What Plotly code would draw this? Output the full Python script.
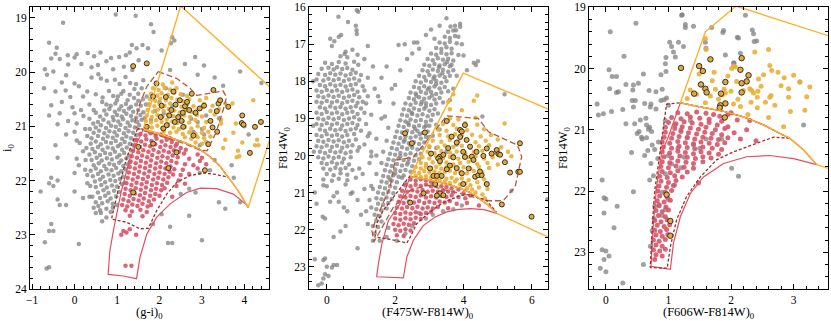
import plotly.graph_objects as go

# ---------------- panel 1 : (g-i)0 vs i0 ----------------
P1_GRAY = [
    (0.97,18.94),(1.44,18.96),(-0.27,19.09),(1.80,19.12),(1.86,19.26),(2.30,19.36),(2.27,19.47),(-0.60,19.46),(-0.42,19.55),
    (1.35,19.50),(1.46,19.56),(1.60,19.50),(1.73,19.56),(2.05,19.60),(-0.55,19.75),(-0.45,19.66),(-0.16,19.69),(0.00,19.73),
    (0.05,19.67),(0.31,19.65),(0.46,19.71),(0.61,19.64),(0.75,19.80),(0.86,19.74),(1.05,19.72),(1.21,19.69),(1.30,19.64),
    (1.51,19.78),(-0.35,19.76),(-0.70,19.95),(-0.15,19.86),(0.16,19.85),(0.40,19.91),(0.55,19.87),(-0.50,19.99),(0.91,19.95),
    (1.16,19.90),(1.36,19.96),(2.84,19.72),(3.05,19.88),(3.90,19.99),(2.25,19.96),(-0.65,20.05),(-0.20,20.06),(0.00,20.21),
    (0.10,20.26),(0.40,20.10),(0.56,20.04),(0.62,20.12),(0.76,20.16),(0.95,20.14),(1.06,20.22),(1.20,20.09),(1.31,20.20),
    (-0.30,20.19),(-0.45,20.36),(-0.72,20.30),(-0.21,20.34),(0.30,20.36),(0.50,20.41),(0.81,20.35),(1.10,20.40),(1.41,20.31),
    (-0.10,20.46),(0.20,20.45),(0.66,20.47),(0.91,20.44),(1.00,20.52),(-0.55,20.61),(-0.30,20.55),(-0.60,20.80),(-0.35,20.76),
    (-0.05,20.65),(0.00,20.76),(0.15,20.70),(0.21,20.81),(-0.15,20.90),(-0.40,20.96),(0.05,20.95),(0.35,20.86),(0.35,20.60),
    (0.45,20.70),(-0.45,21.35),(-0.40,21.58),(0.00,21.10),(0.05,21.26),(0.12,21.31),(-0.20,21.15),(0.20,21.46),(0.25,21.05),
    (-0.80,22.20),(-0.60,22.05),(-0.55,21.95),(-0.50,22.10),(-0.40,22.00),(-0.40,22.35),(-0.35,22.45),(-0.20,22.45),(0.00,22.20),
    (0.05,21.60),(0.10,21.72),(0.00,21.86),(0.25,21.80),(0.30,22.05),(0.35,22.30),(0.20,22.32),(0.45,22.50),(-0.55,22.80),
    (-0.60,22.93),(-0.50,22.93),(-0.70,23.14),(0.10,23.17),(-0.60,23.60),(-0.66,23.62),(0.50,22.60),(0.60,22.55),(0.65,22.75),
    (2.35,19.42),(2.60,19.85),(3.50,20.25),(3.05,21.15),(2.95,21.35),(3.19,21.81),(3.30,21.62),(3.70,21.72),(2.95,21.86),
    (2.70,22.15),(2.85,22.22),(3.40,22.40),(2.70,22.65),(2.25,22.85),(2.20,23.15),(2.30,23.15),(3.00,23.10),(3.55,22.52),
    (3.90,22.40),(4.40,20.20),(4.00,21.00),(4.10,21.15),(3.75,21.95),(2.50,22.25),(2.05,22.62),(1.85,22.80),(2.90,20.05),(3.30,20.10),
    (1.25,20.52),(1.40,20.48),(1.50,20.53),(1.61,20.50),
    (0.85,20.62),(0.96,20.58),(1.10,20.63),(1.21,20.59),(1.33,20.64),(1.45,20.60),(1.56,20.62),
    (0.70,20.71),(0.82,20.68),(0.95,20.73),(1.05,20.69),(1.16,20.72),(1.28,20.67),(1.38,20.73),(1.50,20.70),(1.62,20.74),
    (0.60,20.82),(0.75,20.78),(0.90,20.83),(1.00,20.79),(1.11,20.82),(1.22,20.77),(1.33,20.81),(1.45,20.84),(1.55,20.79),
    (0.55,20.92),(0.68,20.88),(0.80,20.93),(0.92,20.89),(1.03,20.91),(1.14,20.87),(1.25,20.93),(1.36,20.89),(1.48,20.92),(1.58,20.88),
    (0.50,21.02),(0.62,20.98),(0.74,21.03),(0.86,20.99),(0.97,21.01),(1.08,20.97),(1.20,21.03),(1.30,20.99),(1.42,21.02),(1.52,20.98),
    (0.45,21.12),(0.58,21.08),(0.70,21.13),(0.82,21.09),(0.94,21.11),(1.05,21.07),(1.16,21.13),(1.27,21.09),(1.38,21.12),(1.47,21.16),
    (0.40,21.22),(0.55,21.18),(0.67,21.23),(0.78,21.19),(0.90,21.21),(1.00,21.17),(1.12,21.23),(1.22,21.19),(1.33,21.22),(1.42,21.26),
    (0.38,21.32),(0.50,21.28),(0.62,21.33),(0.74,21.29),(0.86,21.31),(0.97,21.27),(1.08,21.33),(1.18,21.29),(1.30,21.32),(1.40,21.36),
    (0.42,21.42),(0.55,21.38),(0.66,21.43),(0.78,21.39),(0.90,21.41),(1.02,21.37),(1.12,21.43),(1.23,21.39),(1.33,21.44),
    (0.35,21.52),(0.48,21.48),(0.60,21.53),(0.72,21.49),(0.84,21.51),(0.95,21.47),(1.06,21.53),(1.17,21.49),(1.28,21.54),
    (0.40,21.62),(0.52,21.58),(0.64,21.63),(0.76,21.59),(0.88,21.61),(1.00,21.57),(1.10,21.63),(1.22,21.59),(1.30,21.66),
    (0.45,21.72),(0.57,21.68),(0.70,21.73),(0.82,21.69),(0.93,21.71),(1.05,21.67),(1.15,21.73),(1.26,21.70),
    (0.38,21.82),(0.50,21.78),(0.62,21.83),(0.75,21.79),(0.87,21.81),(0.98,21.77),(1.10,21.83),(1.20,21.79),
    (0.43,21.92),(0.55,21.88),(0.67,21.93),(0.80,21.89),(0.92,21.91),(1.03,21.87),(1.14,21.93),
    (0.48,22.02),(0.60,21.98),(0.72,22.03),(0.84,21.99),(0.96,22.01),(1.07,21.97),(1.18,22.04),
    (0.50,22.12),(0.63,22.08),(0.76,22.13),(0.88,22.09),(1.00,22.11),(1.12,22.07),
    (0.55,22.22),(0.68,22.18),(0.80,22.23),(0.93,22.19),(1.05,22.21),
    (0.60,22.32),(0.72,22.28),(0.85,22.33),(0.98,22.29),(0.65,22.42),(0.78,22.38),(0.90,22.43),(0.75,22.52),(0.90,22.50),
    (1.75,20.60),(1.90,20.72),(2.10,20.76),(2.30,20.62),(2.50,20.80),(2.62,20.70),(2.40,20.92),(2.20,20.96),(2.75,20.86),
    (2.90,20.92),(3.00,21.05),(2.80,21.10),(2.00,20.55),(1.80,20.88),(2.55,20.42),(2.15,20.30),(3.10,20.80),(3.40,20.85),
    (0.65,20.55),(0.75,20.60),(1.02,20.45),(1.15,20.35),(1.30,20.42),(1.50,20.40),(1.58,20.30),(1.70,20.45),(1.68,20.60),
    (1.65,20.85),(0.50,20.75),(0.44,20.95),(0.36,21.05),(0.30,21.18),(0.28,21.40),(0.26,21.62),(0.30,21.90),(0.37,22.10),
    (0.42,22.30),(0.50,22.40),(0.56,22.47),(0.62,22.60),(0.85,22.58),(1.00,22.45),(0.75,22.68),(1.45,20.22),(1.62,20.15),
]
P1_RED = [
    (1.55,21.14),(1.67,21.17),(1.79,21.13),(1.91,21.18),(2.03,21.15),(2.15,21.19),(2.25,21.22),
    (1.45,21.25),(1.57,21.28),(1.69,21.24),(1.81,21.27),(1.93,21.23),(2.05,21.28),(2.17,21.25),(2.29,21.29),(2.41,21.32),
    (1.42,21.35),(1.54,21.38),(1.66,21.34),(1.78,21.37),(1.90,21.33),(2.02,21.38),(2.14,21.35),(2.26,21.38),(2.38,21.36),(2.50,21.40),(2.62,21.43),
    (1.38,21.45),(1.50,21.48),(1.62,21.44),(1.74,21.47),(1.86,21.43),(1.98,21.48),(2.10,21.45),(2.22,21.48),(2.34,21.44),(2.46,21.47),(2.58,21.50),(2.90,21.52),(3.00,21.58),
    (1.35,21.55),(1.47,21.58),(1.59,21.54),(1.71,21.57),(1.83,21.53),(1.95,21.58),(2.07,21.55),(2.19,21.58),(2.31,21.54),(2.43,21.57),(2.70,21.60),(2.95,21.64),
    (1.32,21.65),(1.44,21.68),(1.56,21.64),(1.68,21.67),(1.80,21.63),(1.92,21.68),(2.04,21.65),(2.16,21.68),(2.28,21.64),(2.40,21.67),(2.60,21.70),(2.80,21.72),(3.10,21.70),
    (1.30,21.75),(1.42,21.78),(1.54,21.74),(1.66,21.77),(1.78,21.73),(1.90,21.78),(2.02,21.75),(2.14,21.78),(2.26,21.74),(2.35,21.79),(2.55,21.80),(2.90,21.78),
    (1.28,21.85),(1.40,21.88),(1.52,21.84),(1.64,21.87),(1.76,21.83),(1.88,21.88),(2.00,21.85),(2.12,21.88),(2.24,21.84),(2.32,21.89),(2.50,21.90),(2.70,21.88),
    (1.25,21.95),(1.37,21.98),(1.49,21.94),(1.61,21.97),(1.73,21.93),(1.85,21.98),(1.97,21.95),(2.09,21.98),(2.21,21.94),(2.45,22.00),
    (1.22,22.05),(1.34,22.08),(1.46,22.04),(1.58,22.07),(1.70,22.03),(1.82,22.08),(1.94,22.05),(2.06,22.08),(2.18,22.04),(2.40,22.10),(2.60,22.06),
    (1.20,22.15),(1.32,22.18),(1.44,22.14),(1.56,22.17),(1.68,22.13),(1.80,22.18),(1.92,22.15),(2.04,22.18),(2.12,22.14),
    (1.18,22.25),(1.30,22.28),(1.42,22.24),(1.54,22.27),(1.66,22.23),(1.78,22.28),(1.90,22.25),(2.00,22.28),(2.30,22.30),
    (1.15,22.35),(1.27,22.38),(1.39,22.34),(1.51,22.37),(1.63,22.33),(1.75,22.38),(1.87,22.35),
    (1.12,22.45),(1.24,22.48),(1.36,22.44),(1.48,22.47),(1.60,22.43),(1.72,22.48),(1.80,22.45),
    (1.20,22.55),(1.35,22.57),(1.55,22.54),(1.70,22.58),(1.30,22.65),(1.60,22.66),
    (1.15,22.93),(1.22,22.96),(1.10,23.00),(1.30,22.90),(1.45,23.00),(1.20,23.57),(1.34,23.57),
]
P1_ORANGE = [
    (1.92,20.20),(2.08,20.23),(2.30,20.19),(1.85,20.30),(1.98,20.33),(2.12,20.29),(2.25,20.32),(2.40,20.30),
    (1.80,20.40),(1.95,20.43),(2.05,20.39),(2.20,20.42),(2.35,20.38),(2.50,20.41),(2.65,20.44),
    (1.78,20.50),(1.90,20.53),(2.02,20.49),(2.15,20.52),(2.28,20.48),(2.42,20.51),(2.55,20.54),(2.70,20.50),(2.95,20.52),(3.10,20.48),
    (1.75,20.60),(1.88,20.63),(2.00,20.59),(2.12,20.62),(2.25,20.58),(2.38,20.61),(2.52,20.64),(2.65,20.60),(2.80,20.63),(3.05,20.59),(3.25,20.62),(3.55,20.58),
    (1.72,20.70),(1.85,20.73),(1.97,20.69),(2.10,20.72),(2.22,20.68),(2.35,20.71),(2.48,20.74),(2.60,20.70),(2.75,20.73),(2.90,20.69),(3.20,20.72),(3.40,20.68),
    (1.70,20.80),(1.82,20.83),(1.95,20.79),(2.07,20.82),(2.20,20.78),(2.32,20.81),(2.45,20.84),(2.58,20.80),(2.72,20.83),(2.88,20.79),(3.00,20.82),(3.30,20.78),
    (1.68,20.90),(1.80,20.93),(1.92,20.89),(2.05,20.92),(2.17,20.88),(2.30,20.91),(2.42,20.94),(2.55,20.90),(2.70,20.93),(2.85,20.89),(3.10,20.92),(3.45,20.88),
    (1.70,21.00),(1.82,21.02),(1.95,20.99),(2.07,21.03),(2.20,20.99),(2.33,21.02),(2.46,21.05),(2.60,21.01),(2.75,21.04),(2.90,21.00),(3.05,21.03),
    (2.10,21.10),(2.25,21.12),(2.40,21.10),(2.55,21.14),(2.70,21.11),(2.85,21.14),(3.00,21.12),(3.15,21.10),
    (2.60,21.20),(2.75,21.23),(2.90,21.20),(3.05,21.22),(3.20,21.19),(2.85,21.30),(3.00,21.32),(3.10,21.29),
    (3.72,20.58),(3.80,20.95),(3.95,21.30),(3.88,21.55),(3.85,21.45),(4.25,21.35),(4.30,21.25),(3.50,21.40),
    (4.21,20.52),(4.33,21.35),(3.74,21.12),(3.82,21.57),(3.55,21.25),(3.45,20.95),
]
P1_CIRCLED = [
    (1.38,19.89),(1.70,19.84),(1.93,20.21),(2.15,20.46),(2.33,20.36),(2.48,20.52),(2.60,20.63),(2.76,20.40),(2.95,20.67),
    (2.85,20.75),(3.27,20.33),(3.39,20.58),(3.43,20.52),(3.62,20.64),(3.35,20.72),(3.95,20.80),(3.94,20.94),(3.98,20.97),
    (4.39,20.92),(4.25,21.01),(4.13,21.49),(3.36,21.10),(3.15,21.33),(3.07,21.81),(2.21,21.77),(1.85,21.32),(1.50,21.38),
    (1.38,22.22),(2.40,21.48),(2.03,20.83),(2.23,20.80),(2.44,20.83),(2.52,20.90),(2.56,21.01),(2.70,20.70),(2.09,21.04),
    (1.70,21.01),(2.36,20.92),(2.80,21.17),(2.65,20.55),(2.05,20.62),(2.28,20.70),(2.38,20.60),(1.85,20.45),(2.17,20.98),
    (2.55,20.75),(3.05,20.62),(3.20,20.90),(3.25,21.02),
]
P1_BOUNDARY = [(1.62,21.05),(2.09,21.16),(2.56,21.29),(2.92,21.41),(3.19,21.56),(3.43,21.74),(3.66,21.98),(3.88,22.22),(4.09,22.50)]
P1_ORANGE_BOX = [(4.90,20.49),(2.50,18.78),(1.62,21.05)]
P1_RED_BOX = [(4.09,22.47),(3.74,22.25),(3.35,22.15),(2.96,22.14),(2.64,22.22),(2.25,22.43),(1.93,22.68),(1.70,22.99),
              (1.54,23.42),(1.46,23.81),(1.15,23.76),(0.79,23.73),(0.83,23.30),(0.92,22.90),(1.10,22.20),(1.30,21.60),(1.62,21.05)]
P1_DASH_LONG = [(1.97,19.99),(2.41,20.12),(2.72,20.30),(2.88,20.43),(3.50,20.35),(3.58,20.46),(3.50,20.70),(3.43,20.89),
                (3.33,21.12),(3.12,21.45),(2.96,21.44),(2.56,21.31),(2.09,21.19),(1.62,21.08),(1.45,21.02),(1.42,20.92),
                (1.54,20.58),(1.70,20.27),(1.97,19.99)]
P1_DASH_SHORT = [(1.48,21.05),(1.22,21.60),(1.02,22.20),(0.87,22.71),(1.23,22.77),(1.54,22.89),(1.74,22.88),(1.93,22.56),
                 (2.17,22.25),(2.41,22.03),(2.72,21.91),(3.03,21.86),(3.35,21.89),(3.62,21.94),(3.43,21.74),(3.19,21.56),
                 (2.92,21.41),(2.56,21.29),(2.09,21.16),(1.62,21.05),(1.48,21.05)]

# ---------------- panel 2 : (F475W-F814W)0 vs F814W0 ----------------
P2_GRAY = [
    (0.88,16.08),(0.92,16.12),(0.34,16.26),(0.62,16.40),(0.85,16.50),(0.87,16.62),(0.88,16.72),(0.10,16.85),(0.22,16.92),
    (0.35,16.80),(0.42,16.75),(0.15,17.05),(0.55,17.20),(0.75,17.15),(0.60,17.35),(3.90,16.45),(3.62,16.52),(3.78,16.62),
    (4.30,17.50),(4.42,17.46),(4.36,17.56),(2.10,17.02),(2.28,17.00),(2.70,17.12),(2.55,16.95),(3.15,16.85),(1.60,17.90),
    (1.75,17.60),(1.50,18.40),(1.90,18.20),(-0.35,22.80),(-0.10,22.82),(-0.05,22.78),(0.00,23.00),(-0.05,23.20),(0.05,23.25),
    (-0.10,23.32),(-0.25,23.50),(-0.15,23.45),(0.20,22.95),(0.30,22.95),(0.15,23.02),(0.20,22.20),(-0.05,21.70),(-0.12,21.65),
    (0.40,22.05),(0.55,21.90),(0.90,22.50),(0.35,21.25),(0.60,21.50),(0.20,21.10),(-0.30,21.30),(0.90,21.20),(1.10,20.90),
    (1.30,21.40),(1.20,21.85),(0.75,21.00),(1.30,18.90),(1.25,19.40),(1.45,19.55),(1.60,19.00),(1.15,18.60),(1.40,18.20),
    (1.20,17.90),(1.10,17.40),(5.20,18.35),(4.55,18.95),(6.45,21.18),(5.40,20.95),(2.70,21.55),(2.90,21.70),(3.10,21.60),
    (3.40,21.50),(3.70,21.45),(3.95,21.35),(2.50,21.90),(2.30,22.10),(1.75,22.20),(2.05,22.30),(1.55,22.30),(1.80,21.95),
    (2.20,20.60),(2.30,20.75),(2.90,19.20),(3.00,19.50),(3.30,19.30),(3.20,19.80),(3.50,19.90),(3.70,20.00),(3.80,19.70),
    (0.90,17.28),(0.40,17.32),(0.52,17.26),
    (-0.05,17.50),(0.15,17.53),(0.35,17.48),(0.55,17.52),(0.80,17.47),(0.92,17.55),
    (-0.15,17.66),(0.05,17.63),(0.20,17.68),(0.30,17.62),(0.45,17.67),(0.60,17.64),(0.75,17.69),
    (-0.25,17.80),(-0.05,17.83),(0.10,17.78),(0.25,17.82),(0.40,17.79),(0.55,17.84),(0.70,17.80),(0.85,17.77),(1.00,17.83),
    (-0.30,17.95),(-0.10,17.98),(0.05,17.93),(0.20,17.97),(0.35,17.94),(0.50,17.99),(0.65,17.95),(0.80,17.92),(0.95,17.98),
    (-0.20,18.10),(-0.05,18.13),(0.10,18.08),(0.25,18.12),(0.40,18.09),(0.55,18.14),(0.70,18.10),(0.85,18.07),(1.05,18.13),
    (-0.30,18.25),(-0.15,18.28),(0.00,18.23),(0.15,18.27),(0.30,18.24),(0.45,18.29),(0.60,18.25),(0.75,18.22),(0.90,18.28),(1.10,18.25),
    (-0.25,18.40),(-0.10,18.43),(0.05,18.38),(0.20,18.42),(0.35,18.39),(0.50,18.44),(0.65,18.40),(0.80,18.37),(0.95,18.43),(1.20,18.40),
    (-0.30,18.55),(-0.15,18.58),(0.00,18.53),(0.15,18.57),(0.30,18.54),(0.45,18.59),(0.60,18.55),(0.75,18.52),(0.90,18.58),(1.05,18.55),
    (-0.20,18.70),(-0.05,18.73),(0.10,18.68),(0.25,18.72),(0.40,18.69),(0.55,18.74),(0.70,18.70),(0.85,18.67),(1.00,18.73),
    (-0.30,18.85),(-0.15,18.88),(0.00,18.83),(0.15,18.87),(0.30,18.84),(0.45,18.89),(0.60,18.85),(0.75,18.82),(0.90,18.88),(1.10,18.85),
    (-0.25,19.00),(-0.10,19.03),(0.05,18.98),(0.20,19.02),(0.35,18.99),(0.50,19.04),(0.65,19.00),(0.80,18.97),(0.95,19.03),
    (-0.30,19.15),(-0.15,19.18),(0.00,19.13),(0.15,19.17),(0.30,19.14),(0.45,19.19),(0.60,19.15),(0.75,19.12),(0.90,19.18),(1.15,19.15),
    (-0.20,19.30),(-0.05,19.33),(0.10,19.28),(0.25,19.32),(0.40,19.29),(0.55,19.34),(0.70,19.30),(0.85,19.27),(1.00,19.33),
    (-0.30,19.45),(-0.15,19.48),(0.00,19.43),(0.15,19.47),(0.30,19.44),(0.45,19.49),(0.60,19.45),(0.80,19.42),(1.20,19.48),
    (-0.25,19.60),(-0.10,19.63),(0.05,19.58),(0.20,19.62),(0.35,19.59),(0.50,19.64),(0.65,19.60),(0.85,19.57),
    (-0.30,19.75),(-0.15,19.78),(0.00,19.73),(0.15,19.77),(0.30,19.74),(0.45,19.79),(0.60,19.75),(0.75,19.72),(0.95,19.78),
    (-0.20,19.90),(-0.05,19.93),(0.10,19.88),(0.25,19.92),(0.40,19.89),(0.55,19.94),(0.70,19.90),(0.90,19.87),
    (-0.25,20.05),(-0.10,20.08),(0.05,20.03),(0.20,20.07),(0.35,20.04),(0.50,20.09),(0.70,20.05),(1.30,20.02),
    (-0.15,20.20),(0.00,20.23),(0.15,20.18),(0.30,20.22),(0.45,20.19),(0.65,20.24),(1.25,20.20),
    (-0.10,20.35),(0.10,20.38),(0.25,20.33),(0.40,20.37),(0.55,20.34),(0.75,20.39),
    (0.00,20.50),(0.20,20.53),(0.40,20.48),(0.60,20.52),(1.05,20.50),(-0.10,20.65),(0.15,20.68),(0.35,20.63),(0.60,20.67),
    (-0.10,20.80),(0.00,20.83),(0.55,20.78),(1.30,20.82),(0.30,21.00),(0.70,21.03),
    (3.75,16.50),(3.90,16.53),(3.55,16.66),(3.70,16.63),(3.45,16.80),(3.60,16.83),(3.75,16.78),
    (3.30,16.95),(3.45,16.98),(3.60,16.93),(3.80,16.97),(3.20,17.10),(3.35,17.13),(3.50,17.08),(3.65,17.12),
    (3.05,17.25),(3.20,17.28),(3.35,17.23),(3.50,17.27),(3.65,17.24),(3.85,17.29),
    (2.95,17.40),(3.10,17.43),(3.25,17.38),(3.40,17.42),(3.55,17.39),(3.70,17.44),
    (2.85,17.55),(3.00,17.58),(3.15,17.53),(3.30,17.57),(3.45,17.54),(3.60,17.59),
    (2.80,17.70),(2.95,17.73),(3.10,17.68),(3.25,17.72),(3.40,17.69),(3.55,17.74),(3.70,17.70),
    (2.70,17.85),(2.85,17.88),(3.00,17.83),(3.15,17.87),(3.30,17.84),(3.45,17.89),(3.60,17.85),
    (2.60,18.00),(2.75,18.03),(2.90,17.98),(3.05,18.02),(3.20,17.99),(3.35,18.04),(3.50,18.00),
    (2.55,18.15),(2.70,18.18),(2.85,18.13),(3.00,18.17),(3.15,18.14),(3.30,18.19),(3.45,18.15),
    (2.45,18.30),(2.60,18.33),(2.75,18.28),(2.90,18.32),(3.05,18.29),(3.20,18.34),(3.35,18.30),(3.55,18.27),
    (2.40,18.45),(2.55,18.48),(2.70,18.43),(2.85,18.47),(3.00,18.44),(3.15,18.49),(3.30,18.45),
    (2.30,18.60),(2.45,18.63),(2.60,18.58),(2.75,18.62),(2.90,18.59),(3.05,18.64),(3.20,18.60),(3.40,18.57),
    (2.25,18.75),(2.40,18.78),(2.55,18.73),(2.70,18.77),(2.85,18.74),(3.00,18.79),(3.15,18.75),
    (2.20,18.90),(2.35,18.93),(2.50,18.88),(2.65,18.92),(2.80,18.89),(2.95,18.94),(3.10,18.90),(3.25,18.87),
    (2.15,19.05),(2.30,19.08),(2.45,19.03),(2.60,19.07),(2.75,19.04),(2.90,19.09),(3.05,19.05),
    (2.10,19.20),(2.25,19.23),(2.40,19.18),(2.55,19.22),(2.70,19.19),(2.85,19.24),(3.00,19.20),(3.20,19.17),
    (2.05,19.35),(2.20,19.38),(2.35,19.33),(2.50,19.37),(2.65,19.34),(2.80,19.39),(2.95,19.35),
    (2.00,19.50),(2.15,19.53),(2.30,19.48),(2.45,19.52),(2.60,19.49),(2.75,19.54),(2.90,19.50),(3.10,19.47),
    (1.95,19.65),(2.10,19.68),(2.25,19.63),(2.40,19.67),(2.55,19.64),(2.70,19.69),(2.85,19.65),
    (1.90,19.80),(2.05,19.83),(2.20,19.78),(2.35,19.82),(2.50,19.79),(2.65,19.84),(2.80,19.80),(3.00,19.77),
    (1.85,19.95),(2.00,19.98),(2.15,19.93),(2.30,19.97),(2.45,19.94),(2.60,19.99),(2.75,19.95),
    (1.80,20.10),(1.95,20.13),(2.10,20.08),(2.25,20.12),(2.40,20.09),(2.55,20.14),(2.70,20.10),
    (1.75,20.25),(1.90,20.28),(2.05,20.23),(2.20,20.27),(2.35,20.24),(2.50,20.29),
    (1.70,20.40),(1.85,20.43),(2.00,20.38),(2.15,20.42),(2.30,20.39),(2.45,20.44),
    (1.65,20.55),(1.80,20.58),(1.95,20.53),(2.10,20.57),(2.25,20.54),(1.60,20.70),(1.75,20.73),(1.90,20.68),(2.05,20.72),
    (1.55,20.85),(1.70,20.88),(1.85,20.83),(2.00,20.87),(1.50,21.00),(1.65,21.03),(1.80,20.98),(1.95,21.02),
    (1.45,21.15),(1.60,21.18),(1.75,21.13),(1.90,21.17),(1.50,21.30),(1.65,21.33),(1.80,21.28),
    (1.45,21.45),(1.60,21.48),(1.75,21.43),(1.40,21.60),(1.55,21.63),(1.45,21.75),(1.60,21.78),(1.35,21.90),(1.50,21.93),
    (1.40,22.10),(1.35,22.30),
    (1.55,18.55),(1.70,18.95),(1.80,19.25),(1.75,19.60),(1.65,19.90),(1.60,20.20),(1.45,20.50),(1.35,20.90),(1.25,21.20),
    (1.15,21.50),(1.95,18.60),(2.00,18.10),(2.15,17.70),(2.35,17.40),(2.50,17.25),(2.65,16.95),(2.90,16.75),(3.05,16.60),
    (3.30,16.50),(3.50,16.30),(3.65,17.55),(3.80,17.85),(3.70,18.20),(3.60,18.50),(3.95,17.00),(4.00,17.30),(3.85,16.80),
    (4.10,17.70),(1.20,17.05),(1.35,17.60),(1.30,19.90),(-0.35,21.00),(0.10,21.25),(0.95,20.35),(1.10,19.70),(1.45,20.00),
    (-0.40,18.00),(-0.40,19.20),(-0.38,19.90),(0.85,20.60),(1.00,21.60),(0.50,21.40),(2.62,18.38),(2.78,18.55),(2.48,18.85),
    (2.38,19.12),(2.58,19.28),(2.28,19.58),(2.45,19.72),(2.15,20.02),(2.38,20.18),(2.00,20.48),(1.85,20.65),(2.72,19.42),
    (2.90,18.68),(3.08,18.38),(3.20,18.08),(3.38,17.78),(3.52,17.48),(3.28,17.62),(3.12,17.92),(2.95,18.22),
]
P2_RED = [
    (2.45,20.65),(2.60,20.68),(2.75,20.64),(2.90,20.67),(3.05,20.71),(3.20,20.73),
    (2.30,20.80),(2.45,20.83),(2.60,20.79),(2.75,20.82),(2.90,20.78),(3.05,20.83),(3.20,20.80),(3.35,20.83),(3.50,20.85),(3.65,20.88),(3.85,20.92),
    (2.20,20.95),(2.35,20.98),(2.50,20.94),(2.65,20.97),(2.80,20.93),(2.95,20.98),(3.10,20.95),(3.25,20.98),(3.40,20.94),(3.55,20.97),(3.70,20.99),(4.00,21.02),(4.20,21.08),
    (2.15,21.10),(2.30,21.13),(2.45,21.09),(2.60,21.12),(2.75,21.08),(2.90,21.13),(3.05,21.10),(3.20,21.13),(3.35,21.09),(3.50,21.12),(3.65,21.08),(3.85,21.12),(4.05,21.15),
    (2.10,21.25),(2.25,21.28),(2.40,21.24),(2.55,21.27),(2.70,21.23),(2.85,21.28),(3.00,21.25),(3.15,21.28),(3.30,21.24),(3.45,21.27),(3.60,21.23),(3.80,21.30),(4.10,21.28),
    (2.05,21.40),(2.20,21.43),(2.35,21.39),(2.50,21.42),(2.65,21.38),(2.80,21.43),(2.95,21.40),(3.10,21.43),(3.25,21.39),(3.55,21.42),(4.45,21.35),
    (2.00,21.55),(2.15,21.58),(2.30,21.54),(2.45,21.57),(2.60,21.53),(2.75,21.58),(2.90,21.55),(3.05,21.52),
    (2.00,21.70),(2.15,21.73),(2.30,21.69),(2.45,21.72),(2.60,21.68),(2.75,21.71),
    (1.95,21.85),(2.10,21.88),(2.25,21.84),(2.40,21.87),(2.55,21.83),(2.00,22.00),(2.15,22.03),(2.30,21.99),(2.45,22.02),
    (2.05,22.15),(2.25,22.17),
]
P2_ORANGE = [
    (3.70,18.35),(4.40,18.38),(3.55,18.55),(4.30,18.52),(3.60,18.75),(3.95,18.78),(3.60,19.00),(3.85,19.03),(4.35,18.98),
    (3.40,19.15),(3.70,19.18),(4.05,19.13),(4.40,19.17),(5.20,19.14),(3.25,19.30),(3.50,19.33),(3.80,19.28),(4.10,19.32),(4.60,19.29),
    (3.30,19.45),(3.55,19.48),(3.75,19.43),(3.95,19.47),(4.25,19.44),(4.50,19.49),(4.80,19.45),
    (3.10,19.60),(3.35,19.63),(3.60,19.58),(3.85,19.62),(4.10,19.59),(4.35,19.64),(4.65,19.60),(5.00,19.57),
    (3.00,19.75),(3.25,19.78),(3.45,19.73),(3.70,19.77),(3.95,19.74),(4.20,19.79),(4.45,19.75),(4.75,19.72),(5.10,19.78),
    (2.95,19.90),(3.15,19.93),(3.35,19.88),(3.60,19.92),(3.80,19.89),(4.05,19.94),(4.30,19.90),(4.55,19.87),(4.90,19.93),(5.30,19.90),
    (2.80,20.05),(3.00,20.08),(3.20,20.03),(3.40,20.07),(3.60,20.04),(3.85,20.09),(4.10,20.05),(4.35,20.02),(4.60,20.08),(4.85,20.05),(5.40,20.02),
    (2.75,20.20),(2.90,20.23),(3.10,20.18),(3.30,20.22),(3.50,20.19),(3.70,20.24),(3.90,20.20),(4.15,20.17),(4.40,20.23),(4.70,20.20),(5.00,20.24),
    (2.60,20.32),(2.75,20.35),(2.90,20.30),(3.05,20.34),(3.20,20.31),(3.35,20.36),(3.50,20.32),(3.65,20.29),(3.80,20.35),(4.00,20.32),(4.20,20.36),(4.45,20.30),(4.75,20.34),
    (2.55,20.44),(2.70,20.47),(2.85,20.42),(3.00,20.46),(3.15,20.43),(3.30,20.48),(3.45,20.44),(3.60,20.41),(3.75,20.47),(3.90,20.44),(4.10,20.48),(4.30,20.42),(4.55,20.46),
    (2.60,20.55),(2.75,20.58),(2.90,20.56),(3.05,20.59),(3.20,20.62),(3.35,20.58),(3.50,20.63),(3.65,20.60),(3.80,20.65),(3.95,20.62),(4.15,20.66),(4.35,20.60),(4.60,20.64),
    (3.30,20.68),(3.45,20.71),(3.60,20.74),(3.75,20.70),(3.90,20.78),(4.05,20.75),(4.20,20.80),(4.40,20.72),(4.65,20.76),
    (4.10,20.88),(4.25,20.92),(4.45,20.86),(4.70,20.90),(4.35,21.00),(4.55,21.05),(4.62,21.15),
]
P2_CIRCLED = [
    (3.51,19.07),(3.90,19.31),(3.95,19.35),(4.04,19.18),(3.65,19.49),(3.80,19.65),(3.90,19.50),(4.09,19.58),(4.19,19.76),
    (3.99,19.90),(4.04,20.04),(4.24,20.03),(4.38,19.90),(4.58,20.01),(4.68,19.81),(4.82,19.95),(4.97,19.85),(5.02,19.96),
    (5.07,19.98),(5.65,19.67),(5.21,20.18),(5.36,20.46),(5.60,20.44),(5.65,20.44),(5.12,21.32),(5.99,21.65),(3.31,20.03),
    (3.41,19.98),(3.26,20.08),(3.31,20.15),(3.02,20.35),(3.12,20.55),(3.22,20.55),(3.36,20.55),(3.51,20.37),(3.60,20.27),
    (3.80,20.34),(3.95,20.48),(3.99,20.77),(4.34,20.57),(4.43,20.53),(4.53,20.53),(4.68,20.77),(4.29,20.12),(4.48,20.43),
    (2.83,21.02),(3.17,20.77),(3.31,21.02),(3.22,21.08),(3.41,21.07),(2.29,19.40),(2.49,19.67),(2.87,19.38),(2.44,21.27),
    (3.70,20.05),(3.05,19.95),(4.15,20.35),(3.55,19.80),
]
P2_BOUNDARY = [(2.44,20.57),(2.80,20.62),(3.22,20.70),(3.60,20.79),(3.90,20.88),(4.20,21.00),(4.39,21.11),(4.70,21.32),(4.97,21.56)]
P2_ORANGE_BOX = [(8.00,22.85),(8.00,19.34),(3.99,17.78),(2.44,20.57)]
P2_RED_BOX = [(4.60,21.46),(4.19,21.43),(3.80,21.46),(3.51,21.52),(3.17,21.66),(2.82,21.89),(2.53,22.29),(2.34,22.74),
              (2.24,23.30),(1.85,23.29),(1.46,23.27),(1.51,22.92),(1.61,22.39),(1.80,21.76),(2.14,21.31),(2.44,20.57)]
P2_DASH_LONG = [(3.51,18.93),(4.43,19.00),(4.73,19.36),(5.58,19.72),(5.70,20.03),(5.60,20.48),(5.51,20.84),(5.16,21.22),
                (4.75,21.22),(4.40,21.15),(3.90,21.02),(3.51,20.94),(2.92,20.80),(2.44,20.94),(1.95,21.39),(1.46,22.20),
                (1.38,22.32),(1.32,22.03),(1.46,21.67),(1.85,20.86),(2.00,20.12),(2.53,20.05),(3.51,18.93)]
P2_DASH_SHORT = [(2.44,20.54),(1.95,21.13),(1.65,21.48),(1.46,21.84),(1.41,22.20),(1.90,22.27),(2.34,22.36),(2.44,22.20),
                 (2.63,21.84),(3.02,21.52),(3.38,21.28),(3.90,21.08),(4.19,21.05),(4.68,21.22),(4.97,21.54),(4.70,21.32),
                 (4.39,21.11),(4.20,21.00),(3.90,20.88),(3.60,20.79),(3.22,20.70),(2.80,20.62),(2.44,20.56)]

# ---------------- panel 3 : (F606W-F814W)0 vs F814W0 ----------------
P3_GRAY = [
    (1.21,19.13),(0.48,19.26),(0.07,19.40),(1.40,19.31),(1.27,19.33),(1.88,19.38),(1.69,19.33),(2.36,19.43),(2.12,19.50),
    (2.41,19.55),(1.16,19.57),(1.24,19.64),(1.08,19.73),(1.11,19.81),(0.96,19.82),(0.29,19.80),(1.59,19.57),(1.60,19.67),
    (2.05,19.91),(2.23,19.13),(1.22,19.12),(1.27,19.28),(1.87,19.41),(2.34,19.37),(2.37,19.56),(2.10,19.49),(1.91,19.78),
    (2.04,19.91),(2.15,19.75),(1.02,19.57),(1.05,19.64),(0.95,19.92),(0.96,20.05),(0.88,20.10),
    (0.05,20.02),(0.10,20.13),(0.17,20.13),(0.60,20.09),(0.32,20.26),(0.06,20.33),(0.17,20.39),(0.43,20.35),(0.69,20.36),
    (0.80,20.38),(0.90,20.34),(0.44,20.27),(0.52,20.24),(0.20,20.38),(0.42,20.52),(0.72,20.58),(0.88,20.52),(0.97,20.48),
    (1.00,20.60),(0.47,20.52),(0.44,20.63),(0.71,20.63),(0.62,20.57),(0.80,20.66),(0.93,20.51),
    (-0.14,20.58),(-0.12,20.76),(-0.04,20.74),(0.09,20.70),(0.27,20.67),(0.32,20.90),(0.46,20.90),(0.64,20.81),(0.55,20.84),
    (0.65,20.92),(0.70,20.96),(0.53,21.03),(0.57,21.12),(0.68,20.99),(0.50,21.06),(0.73,21.03),(0.65,21.13),(0.58,21.15),
    (0.84,21.20),(0.78,21.32),(0.67,21.34),(0.41,21.37),(0.83,21.47),(0.74,21.25),(0.62,21.42),
    (0.44,22.01),(0.76,21.75),(0.70,21.82),(0.72,21.55),(0.78,22.25),(0.77,22.45),(0.74,22.65),(0.71,22.90),(0.60,23.20),
    (-0.06,21.82),(-0.03,22.11),(0.00,22.13),(-0.03,22.36),(0.18,22.25),(0.13,22.60),(-0.06,22.96),(0.00,22.98),(0.05,23.06),
    (-0.03,23.12),(-0.09,23.26),(0.00,23.32),(0.27,23.50),(2.01,21.63),(2.12,21.76),(3.16,20.92),(3.10,20.22),
    (0.95,20.85),(1.10,20.92),(1.20,21.00),(1.30,21.12),(1.15,21.30),(1.00,21.42),(1.05,21.56),(1.20,21.62),(0.95,21.72),
    (1.10,21.90),(0.90,22.02),(1.00,22.14),(0.85,22.22),(1.25,21.45),(1.40,21.25),(1.50,21.30),(1.35,20.85),(1.60,21.15),
    (0.90,22.40),(0.95,22.30),(1.85,21.15),
]
P3_RED = [
    (1.15,20.72),(1.30,20.74),(1.45,20.71),(1.60,20.73),(1.72,20.75),(1.82,20.78),
    (1.05,20.80),(1.20,20.82),(1.35,20.79),(1.50,20.81),(1.65,20.83),(1.85,20.86),(2.10,20.84),
    (1.00,20.88),(1.12,20.90),(1.25,20.87),(1.38,20.89),(1.52,20.91),(1.65,20.88),(1.78,20.92),(1.95,20.95),
    (0.95,20.96),(1.10,20.98),(1.22,20.95),(1.35,20.97),(1.48,20.99),(1.60,20.96),(1.75,21.00),(1.90,20.98),(2.25,21.00),
    (0.95,21.04),(1.07,21.06),(1.20,21.03),(1.32,21.05),(1.45,21.07),(1.58,21.04),(1.70,21.06),(1.85,21.08),(2.05,21.05),
    (0.93,21.12),(1.05,21.14),(1.17,21.11),(1.30,21.13),(1.42,21.15),(1.55,21.12),(1.68,21.14),(1.80,21.16),(1.95,21.13),(2.15,21.15),
    (0.90,21.20),(1.02,21.22),(1.15,21.19),(1.27,21.21),(1.40,21.23),(1.52,21.20),(1.65,21.22),(1.78,21.24),(1.90,21.21),(2.40,21.18),
    (0.92,21.28),(1.05,21.30),(1.17,21.27),(1.30,21.29),(1.42,21.31),(1.55,21.28),(1.70,21.30),(1.85,21.32),
    (0.90,21.36),(1.02,21.38),(1.15,21.35),(1.27,21.37),(1.40,21.39),(1.52,21.36),(1.65,21.38),(1.80,21.40),
    (0.93,21.44),(1.05,21.46),(1.18,21.43),(1.30,21.45),(1.43,21.47),(1.55,21.44),(1.68,21.46),
    (0.90,21.52),(1.02,21.54),(1.15,21.51),(1.28,21.53),(1.40,21.55),(1.55,21.52),
    (0.88,21.60),(1.00,21.62),(1.12,21.59),(1.25,21.61),(1.40,21.63),
    (0.90,21.68),(1.03,21.70),(1.15,21.67),(1.30,21.69),(0.86,21.76),(0.98,21.78),(1.10,21.75),(1.22,21.77),
    (0.88,21.84),(1.00,21.86),(1.12,21.83),(0.85,21.92),(0.97,21.94),(1.08,21.91),(0.83,22.00),(0.95,22.02),(1.05,21.99),
    (0.86,22.08),(0.98,22.10),(0.82,22.16),(0.93,22.18),(1.03,22.15),(0.85,22.24),(0.96,22.26),
    (0.80,22.32),(0.90,22.34),(1.00,22.31),(0.84,22.40),(0.95,22.42),(0.78,22.48),(0.88,22.50),(0.98,22.47),
    (0.82,22.56),(0.93,22.58),(1.02,22.55),(0.78,22.64),(0.87,22.66),(0.97,22.63),(0.80,22.72),(0.90,22.74),(0.99,22.71),
    (0.76,22.80),(0.85,22.82),(0.95,22.79),(0.80,22.88),(0.90,22.90),(0.76,22.96),(0.86,22.98),(0.95,22.95),
    (0.80,23.04),(0.90,23.06),(0.78,23.12),(1.48,21.87),(2.30,20.85),(1.95,20.75),(2.00,20.72),
]
P3_ORANGE = [
    (1.59,19.51),(1.60,19.69),(2.38,19.73),(2.60,19.69),(2.62,19.95),(2.65,20.03),(2.75,20.06),(3.00,20.11),(3.10,20.22),
    (3.26,20.30),(3.21,20.46),(3.18,20.68),(2.92,20.33),(2.92,20.47),(2.84,20.95),(2.70,20.60),(2.62,20.47),(2.64,20.44),
    (2.48,20.29),(2.43,20.37),(2.42,20.47),(2.42,20.64),(2.30,20.33),(2.33,20.36),(2.36,20.40),(2.27,20.75),(2.32,20.55),
    (2.20,20.36),(2.11,20.50),(2.04,20.58),(2.09,20.21),(2.04,19.96),(2.07,19.97),(2.01,20.00),(2.00,20.37),(1.89,20.34),
    (1.91,20.40),(1.86,20.43),(1.75,20.34),(1.67,20.45),(1.59,20.56),(1.73,20.06),(1.49,20.09),(1.35,20.35),(1.30,20.49),
    (1.95,20.12),(2.44,20.17),(2.52,20.10),(2.80,20.28),(2.55,20.55),(1.45,20.42),(2.15,20.62),(1.80,20.50),(2.95,20.70),
    (2.60,20.80),(1.70,20.20),(2.85,20.15),
]
P3_CIRCLED = [
    (1.20,19.99),(1.67,19.85),(1.49,19.96),(1.55,20.04),(2.17,19.83),(2.15,20.02),(2.28,20.11),(2.25,20.21),(2.17,20.24),
    (2.17,20.39),(1.91,20.22),(1.84,20.41),(1.59,20.33),(1.61,20.39),(1.52,20.26),(1.41,20.41),(1.91,20.57),(1.83,20.60),
    (1.82,20.64),(1.90,20.80),(0.97,22.06),(1.03,22.49),(1.03,22.73),
]
P3_BOUNDARY = [(1.19,20.56),(1.56,20.64),(1.88,20.70),(2.20,20.79),(2.52,20.92),(2.78,21.06),(2.94,21.14),(3.16,21.33),(3.37,21.57)]
P3_ORANGE_BOX = [(4.00,21.78),(4.00,19.61),(2.08,18.98),(1.59,19.40),(1.19,20.56)]
P3_RED_BOX = [(3.00,21.47),(2.62,21.42),(2.25,21.44),(1.88,21.55),(1.56,21.77),(1.35,22.04),(1.19,22.42),(1.08,22.85),
              (1.03,23.28),(0.72,23.23),(0.76,22.52),(0.81,21.93),(0.89,21.38),(1.00,21.11),(1.19,20.56)]
P3_DASH = [(0.97,20.58),(1.19,20.56),(1.56,20.64),(1.88,20.70),(2.20,20.79),(2.52,20.92),(2.78,21.06),(2.94,21.14),
           (2.68,21.12),(2.41,21.22),(2.04,21.36),(1.77,21.49),(1.51,21.77),(1.29,22.09),(1.13,22.47),(1.03,22.91),
           (0.98,23.26),(0.71,23.25),(0.74,22.60),(0.78,22.00),(0.84,21.50),(0.90,21.10),(0.97,20.58)]

X_TITLES = ["(g-i)<sub>0</sub>", "(F475W-F814W)<sub>0</sub>", "(F606W-F814W)<sub>0</sub>"]
Y_TITLES = ["i<sub>0</sub>", "F814W<sub>0</sub>", "F814W<sub>0</sub>"]

GRAY = "rgba(128,128,128,0.75)"
RED = "rgba(214,84,104,0.9)"
ORANGE = "rgba(233,175,55,0.9)"
LINE_ORANGE = "#fdb12c"
LINE_RED = "#e44e60"
LINE_BROWN = "#b35a3a"
LINE_DARK = "#99302e"

W, H = 831, 321


def xy(pts):
    return [p[0] for p in pts], [p[1] for p in pts]


def fx(px):
    return px / W


def fy(py):
    return 1 - py / H


panels = [
    dict(gray=P1_GRAY, red=P1_RED, orange=P1_ORANGE, circ=P1_CIRCLED,
         orange_poly=P1_BOUNDARY + P1_ORANGE_BOX, red_poly=P1_BOUNDARY + P1_RED_BOX,
         dashes=[(P1_DASH_LONG, LINE_BROWN, "6px,3px"), (P1_DASH_SHORT, LINE_DARK, "3px,2px")],
         px=(30, 269), xr=[-1.05, 4.58], yr=[24.0, 18.8], dx=1, mx=0.2, dy=1, my=0.2, ms=4.5),
    dict(gray=P2_GRAY, red=P2_RED, orange=P2_ORANGE, circ=P2_CIRCLED,
         orange_poly=P2_BOUNDARY + P2_ORANGE_BOX, red_poly=P2_BOUNDARY + P2_RED_BOX,
         dashes=[(P2_DASH_LONG, LINE_BROWN, "6px,3px"), (P2_DASH_SHORT, LINE_DARK, "3px,2px")],
         px=(309, 548), xr=[-0.52, 6.47], yr=[23.6, 15.995], dx=2, mx=0.5, dy=1, my=0.2, ms=4.5),
    dict(gray=P3_GRAY, red=P3_RED, orange=P3_ORANGE, circ=P3_CIRCLED,
         orange_poly=P3_BOUNDARY + P3_ORANGE_BOX, red_poly=P3_BOUNDARY + P3_RED_BOX,
         dashes=[(P3_DASH, LINE_DARK, "3px,2px")],
         px=(589, 828), xr=[-0.27, 3.55], yr=[23.6, 18.995], dx=1, mx=0.2, dy=1, my=0.2, ms=5),
]

fig = go.Figure()
font_family = "Liberation Serif, DejaVu Serif, serif"

for i, p in enumerate(panels):
    n = "" if i == 0 else str(i + 1)
    xa, ya = "x" + n, "y" + n
    for pts, col in [(p["gray"], GRAY), (p["red"], RED), (p["orange"], ORANGE)]:
        x, y = xy(pts)
        fig.add_trace(go.Scatter(x=x, y=y, mode="markers", xaxis=xa, yaxis=ya,
                                 marker=dict(color=col, size=p["ms"], line=dict(width=0))))
    x, y = xy(p["circ"])
    fig.add_trace(go.Scatter(x=x, y=y, mode="markers", xaxis=xa, yaxis=ya,
                             marker=dict(color="#e3a838", size=p["ms"] + 0.5, line=dict(width=0.9, color="#222"))))
    # selection boxes
    x, y = xy(p["red_poly"])
    fig.add_trace(go.Scatter(x=x, y=y, mode="lines", xaxis=xa, yaxis=ya,
                             line=dict(color=LINE_RED, width=1.2)))
    for pts, col, dash in p["dashes"]:
        x, y = xy(pts)
        fig.add_trace(go.Scatter(x=x, y=y, mode="lines", xaxis=xa, yaxis=ya,
                                 line=dict(color=col, width=1.3, dash=dash)))
    x, y = xy(p["orange_poly"])
    fig.add_trace(go.Scatter(x=x, y=y, mode="lines", xaxis=xa, yaxis=ya,
                             line=dict(color=LINE_ORANGE, width=1.4)))

    x0, x1 = p["px"]
    common = dict(showline=True, linecolor="black", linewidth=1, mirror="allticks",
                  ticks="inside", ticklen=5, tickwidth=1, tickcolor="black",
                  showgrid=False, zeroline=False, automargin=False,
                  tickfont=dict(family=font_family, size=11.5, color="black"))
    fig.layout["xaxis" + n] = dict(common, domain=[fx(x0), fx(x1)], range=p["xr"], anchor=ya,
                                    dtick=p["dx"], tick0=0,
                                    minor=dict(dtick=p["mx"], tick0=0, ticks="inside", ticklen=3, tickcolor="black"))
    fig.layout["yaxis" + n] = dict(common, domain=[fy(289), fy(7)], range=p["yr"], anchor=xa,
                                    dtick=p["dy"], tick0=0,
                                    minor=dict(dtick=p["my"], tick0=0, ticks="inside", ticklen=3, tickcolor="black"))
    fig.add_annotation(text=X_TITLES[i], x=fx((x0 + x1) / 2), y=fy(312.5), xref="paper", yref="paper",
                       showarrow=False, xanchor="center", yanchor="middle",
                       font=dict(family=font_family, size=12.5, color="black"))
    ypx = [8, 284, 564][i]
    fig.add_annotation(text=Y_TITLES[i], x=fx(ypx), y=fy(148), xref="paper", yref="paper",
                       showarrow=False, textangle=-90, xanchor="center", yanchor="middle",
                       font=dict(family=font_family, size=12.5, color="black"))

fig.update_layout(width=W, height=H, margin=dict(l=0, r=0, t=0, b=0),
                  paper_bgcolor="white", plot_bgcolor="white", showlegend=False,
                  font=dict(family=font_family, color="black"))

# drop the page's default body margin so the figure sits at the window corner
fig.write_html("out.html", config={"displayModeBar": False},
               post_script="document.body.style.margin='0';document.body.style.overflow='hidden';")
